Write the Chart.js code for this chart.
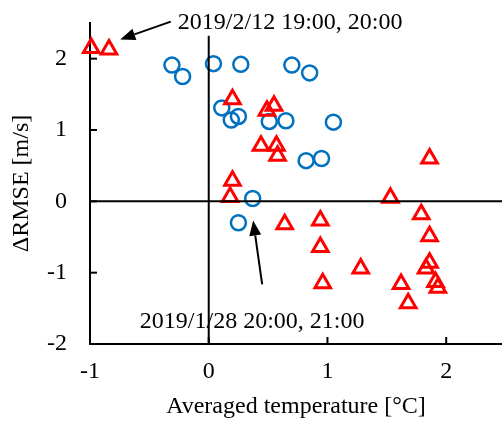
<!DOCTYPE html>
<html><head><meta charset="utf-8">
<script src="https://cdn.jsdelivr.net/npm/chart.js@4"></script>
<style>html,body{margin:0;padding:0;background:#fff}#wrap{width:502px;height:421px}</style>
</head><body><div id="wrap"><canvas id="c" width="502" height="421"></canvas></div>
<script>
// ---- data ----
const circleX = [-0.31, -0.22, 0.04, 0.27, 0.11, 0.19, 0.25, 0.70, 0.85, 0.51, 0.65, 1.05, 0.82, 0.95, 0.37, 0.25];
const circleY = [1.91, 1.75, 1.93, 1.92, 1.31, 1.14, 1.19, 1.91, 1.80, 1.12, 1.13, 1.11, 0.57, 0.60, 0.04, -0.30];
const triX = [-0.99, -0.84, 0.20, 0.49, 0.55, 0.44, 0.57, 0.58, 1.86, 0.20, 0.18, 1.53, 0.64, 0.94, 0.94, 0.96, 1.28, 1.79, 1.86, 1.86, 1.83, 1.91, 1.93, 1.62, 1.68];
const triY = [2.15, 2.13, 1.43, 1.27, 1.34, 0.78, 0.78, 0.64, 0.60, 0.29, 0.06, 0.05, -0.32, -0.27, -0.64, -1.15, -0.94, -0.18, -0.49, -0.86, -0.94, -1.13, -1.21, -1.16, -1.43];
const xTicks = [-1, 0, 1, 2];
const yTicks = [-2, -1, 0, 1, 2];
const xRange = [-1, 2.47];
const yRange = [-2, 2.5];
const zeroLineTop = 2.32;
const xTitle = 'Averaged temperature [°C]';
const yTitle = 'ΔRMSE [m/s]';
const noteTexts = ['2019/2/12 19:00, 20:00', '2019/1/28 20:00, 21:00'];
const noteAnchors = [[-0.26, 2.41], [-0.58, -1.78]];
const arrowFrom = [[-0.32, 2.52], [0.45, -1.165]];
const arrowTo = [[-0.745, 2.27], [0.374, -0.27]];

const FONT = "'Liberation Serif', 'Times New Roman', serif";
const FS = 24;

const pts = (xs, ys) => xs.map((x, i) => ({x, y: ys[i]}));

const customDraw = {
  id: 'customDraw',
  afterDraw(chart) {
    const {ctx, scales: {x, y}, chartArea: a} = chart;
    ctx.save();
    ctx.strokeStyle = '#000'; ctx.fillStyle = '#000'; ctx.lineWidth = 2;
    yTicks.forEach(v => { const p = y.getPixelForValue(v); ctx.beginPath(); ctx.moveTo(a.left, p); ctx.lineTo(a.left + 7, p); ctx.stroke(); });
    xTicks.forEach(v => { const p = x.getPixelForValue(v); ctx.beginPath(); ctx.moveTo(p, a.bottom); ctx.lineTo(p, a.bottom - 7); ctx.stroke(); });
    ctx.font = FS + 'px ' + FONT;
    ctx.textBaseline = 'alphabetic'; ctx.textAlign = 'left';
    noteTexts.forEach((t, i) => ctx.fillText(t, x.getPixelForValue(noteAnchors[i][0]), y.getPixelForValue(noteAnchors[i][1])));
    arrowFrom.forEach((f, i) => {
      const x1 = x.getPixelForValue(f[0]), y1 = y.getPixelForValue(f[1]);
      const x2 = x.getPixelForValue(arrowTo[i][0]), y2 = y.getPixelForValue(arrowTo[i][1]);
      const ang = Math.atan2(y2 - y1, x2 - x1);
      const L = 15, W = 6;
      const bx = x2 - L * Math.cos(ang), by = y2 - L * Math.sin(ang);
      ctx.beginPath(); ctx.moveTo(x1, y1); ctx.lineTo(bx, by); ctx.stroke();
      ctx.beginPath(); ctx.moveTo(x2, y2);
      ctx.lineTo(bx + W * Math.sin(ang), by - W * Math.cos(ang));
      ctx.lineTo(bx - W * Math.sin(ang), by + W * Math.cos(ang));
      ctx.closePath(); ctx.fill();
    });
    ctx.restore();
  }
};

new Chart(document.getElementById('c'), {
  type: 'scatter',
  data: {
    datasets: [
      {data: [{x: 0, y: yRange[0]}, {x: 0, y: zeroLineTop}], showLine: true, borderColor: '#000', borderWidth: 2, pointRadius: 0, order: 0, clip: false},
      {data: [{x: xRange[0], y: 0}, {x: xRange[1], y: 0}], showLine: true, borderColor: '#000', borderWidth: 2, pointRadius: 0, order: 0, clip: false},
      {data: pts(circleX, circleY), pointStyle: 'circle', pointRadius: 7.5, pointBorderWidth: 2.5, borderColor: '#0070C0', backgroundColor: 'rgba(0,0,0,0)', order: 2, clip: false},
      {data: pts(triX, triY), pointStyle: 'triangle', pointRadius: 9, pointBorderWidth: 3, borderColor: '#FF0000', backgroundColor: 'rgba(0,0,0,0)', order: 1, clip: false}
    ]
  },
  options: {
    responsive: false, animation: false, devicePixelRatio: 1,
    layout: {autoPadding: false, padding: {top: 23, right: 0, left: 0, bottom: 0}},
    plugins: {legend: {display: false}, tooltip: {enabled: false}},
    scales: {
      x: {
        type: 'linear', min: xRange[0], max: xRange[1],
        afterFit: s => { s.height = 77; s.paddingLeft = 0; s.paddingRight = 0; },
        grid: {display: false},
        border: {display: true, color: '#000', width: 2},
        ticks: {color: '#000', font: {family: FONT, size: FS}, padding: 5, stepSize: 1, includeBounds: false, maxRotation: 0,
                callback: v => xTicks.includes(v) ? String(v) : ''},
        title: {display: true, text: xTitle, color: '#000', font: {family: FONT, size: FS}, padding: {top: 0, bottom: 0}}
      },
      y: {
        type: 'linear', min: yRange[0], max: yRange[1],
        afterFit: s => { s.width = 90; s.paddingTop = 0; s.paddingBottom = 0; },
        grid: {display: false},
        border: {display: true, color: '#000', width: 2},
        ticks: {color: '#000', font: {family: FONT, size: FS}, padding: 15, stepSize: 1, includeBounds: false,
                callback: v => yTicks.includes(v) ? String(v) : ''},
        title: {display: true, text: yTitle, color: '#000', font: {family: FONT, size: FS}, padding: {top: 7, bottom: 0}}
      }
    }
  },
  plugins: [customDraw]
});
</script>
</body></html>
